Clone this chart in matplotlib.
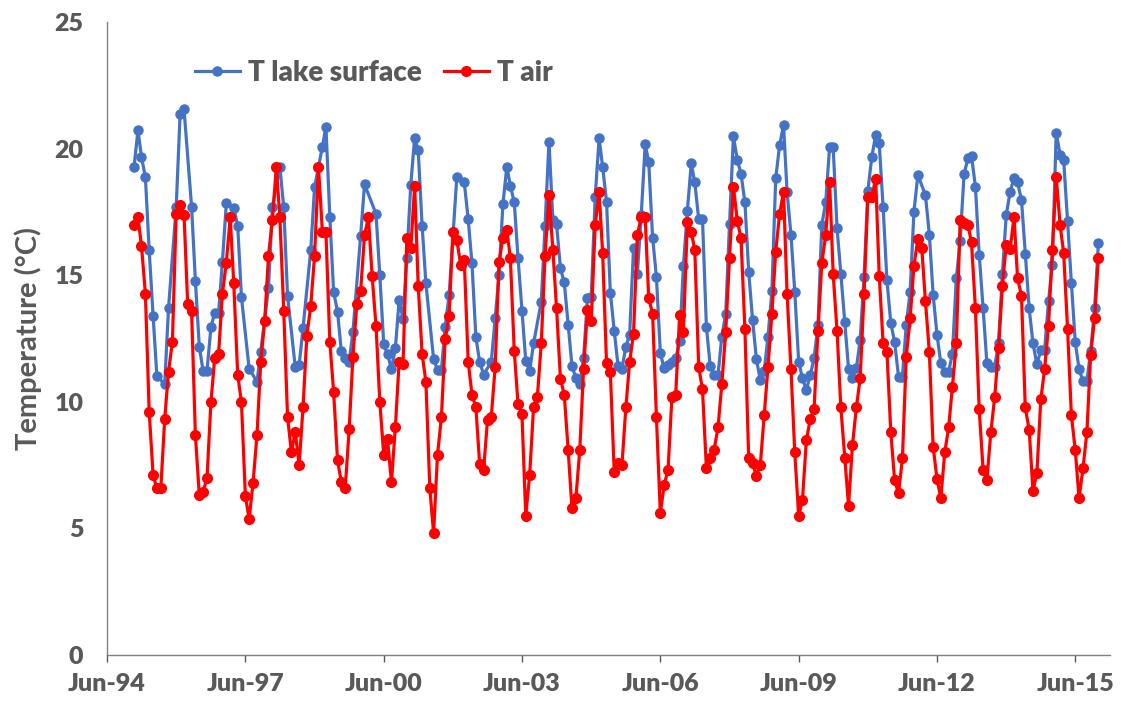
import numpy as np
import pandas as pd
import matplotlib
matplotlib.use('Agg')
import matplotlib.pyplot as plt
import matplotlib.dates as mdates

# monthly series, Jan-1995 .. Dec-2015 (NaN = no lake observation that month)
nan = np.nan
months = pd.date_range('1995-01-01', '2015-12-01', freq='MS')

t_lake = [
    19.26, 20.73, 19.68, 18.87, 15.98, 13.40, 11.02, nan, 10.70, 13.69, nan, 17.70,
    21.37, 21.56, nan, 17.70, 14.78, 12.18, 11.22, 11.22, 12.94, 13.53, 13.53, 15.53,
    17.84, nan, 17.67, 16.96, 14.13, nan, 11.30, nan, 10.80, 11.98, nan, 14.51,
    17.68, nan, 19.29, 17.68, 14.19, nan, 11.38, 11.45, 12.93, nan, 16.00, 18.47,
    nan, 20.08, 20.87, 17.31, 14.35, 13.56, 12.00, 11.72, 11.58, 12.77, nan, 16.56,
    18.60, nan, nan, 17.42, 15.00, 12.27, 11.88, 11.30, 12.11, 14.02, 13.27, 15.70,
    18.56, 20.44, 19.94, 16.96, 14.68, nan, 11.69, 11.26, 11.26, 12.97, 14.22, nan,
    18.89, nan, 18.67, 17.22, 15.47, 12.55, 11.58, 11.08, nan, 11.58, 13.32, 15.00,
    17.81, 19.29, 18.54, 17.88, 15.67, 13.59, 11.62, 11.22, 12.31, nan, 13.96, 16.96,
    20.28, 17.18, 17.01, 15.27, 14.72, 13.03, 11.43, 10.93, 10.69, 11.72, 14.12, 14.15,
    18.10, 20.41, 19.29, 17.90, 14.32, 12.80, 11.43, 11.30, 12.18, 12.66, 16.09, 15.07,
    17.38, 20.17, 19.48, 16.48, 14.94, 11.94, 11.32, 11.45, 11.58, 11.72, 12.40, 15.38,
    17.54, 19.42, 18.67, 17.22, 17.22, 12.97, 11.43, 11.06, 11.06, 12.57, 13.47, 17.01,
    20.50, 19.55, 19.02, 17.88, 15.14, 13.23, 11.69, 10.86, 11.22, 12.57, 14.39, 18.83,
    20.14, 20.93, 18.30, 16.59, 14.35, 11.58, 10.93, 10.47, 11.06, 11.72, 13.03, 16.98,
    17.88, 20.08, 20.08, 16.85, 15.07, 13.16, 11.30, 10.95, 11.32, 12.46, 14.94, 18.33,
    19.68, 20.54, 20.21, 17.68, 14.81, 13.10, 12.37, 10.99, 10.99, 13.03, 14.35, 17.51,
    18.96, nan, 18.17, 16.61, 14.24, 12.64, 11.52, 11.19, 11.19, 11.91, 14.90, 16.35,
    19.00, 19.62, 19.72, 18.50, 15.82, 13.69, 11.52, 11.39, 11.39, 12.31, 15.07, 17.38,
    18.30, 18.83, 18.67, 17.97, 15.86, 13.69, 12.31, 11.48, 12.04, 12.04, 13.98, 15.40,
    20.64, 19.75, 19.55, 17.14, 14.71, 12.35, 11.30, 10.82, 10.82, 12.00, 13.69, 16.26,
]

t_air = [
    16.98, 17.29, 16.17, 14.27, 9.61, 7.11, 6.58, 6.58, 9.32, 11.19, 12.37, 17.44,
    17.77, 17.40, 13.86, 13.59, 8.69, 6.32, 6.45, 6.98, 9.98, 11.72, 11.91, 14.27,
    15.50, 17.29, 14.68, 11.08, 9.98, 6.28, 5.37, 6.81, 8.69, 11.59, 13.19, 15.77,
    17.17, 19.29, 17.29, 13.59, 9.41, 8.00, 8.82, 7.50, 9.81, 12.61, 13.80, 15.77,
    19.29, 16.72, 16.72, 12.37, 10.40, 7.70, 6.82, 6.58, 8.91, 11.78, 13.88, 14.38,
    16.59, 17.29, 14.98, 13.00, 10.00, 7.90, 8.53, 6.82, 8.99, 11.58, 11.48, 16.48,
    16.06, 18.54, 14.59, 11.89, 10.80, 6.58, 4.81, 7.90, 9.41, 12.48, 13.39, 16.72,
    16.39, 15.40, 15.60, 11.58, 10.29, 9.78, 7.53, 7.31, 9.28, 9.41, 11.39, 15.51,
    16.48, 16.79, 15.69, 12.00, 9.90, 9.51, 5.50, 7.11, 9.81, 10.20, 12.31, 15.77,
    18.19, 16.00, 13.69, 10.90, 10.29, 8.10, 5.79, 6.19, 8.10, 11.30, 13.63, 13.20,
    16.98, 18.30, 15.89, 11.52, 11.19, 7.21, 7.57, 7.50, 9.78, 11.58, 12.70, 16.59,
    17.31, 17.31, 14.11, 13.47, 9.41, 5.60, 6.71, 7.31, 10.20, 10.29, 13.43, 12.77,
    17.11, 16.72, 16.00, 11.39, 10.49, 7.37, 7.77, 8.10, 8.99, 10.69, 12.77, 15.67,
    18.50, 17.15, 16.48, 12.88, 7.79, 7.57, 7.08, 7.50, 9.48, 11.39, 13.49, 15.93,
    17.42, 18.30, 14.28, 11.30, 8.00, 5.50, 6.12, 8.49, 9.32, 9.72, 12.80, 15.47,
    16.59, 18.67, 15.07, 12.80, 9.78, 7.79, 5.90, 8.29, 9.78, 10.93, 14.28, 18.10,
    18.10, 18.80, 14.98, 12.31, 11.98, 8.79, 6.91, 6.38, 7.79, 11.78, 13.30, 15.38,
    16.43, 16.09, 13.98, 11.98, 8.23, 6.95, 6.19, 8.00, 8.99, 10.60, 12.31, 17.18,
    17.05, 16.98, 16.30, 13.69, 9.70, 7.31, 6.91, 8.79, 10.20, 12.11, 14.59, 16.19,
    16.03, 17.31, 14.88, 14.19, 9.78, 8.89, 6.48, 7.18, 10.10, 11.28, 12.99, 16.00,
    18.89, 16.98, 15.89, 12.88, 9.48, 8.10, 6.19, 7.37, 8.79, 11.87, 13.30, 15.67,
]

tick_dates = pd.date_range('1994-06-01', '2015-06-01', freq='36MS')

plt.rcParams['font.family'] = ['Lato', 'DejaVu Sans']
gray = '#595959'

fig = plt.figure(figsize=(11.23, 7.11), dpi=100)
ax = fig.add_axes([0.0953, 0.0788, 0.893, 0.890])

lake = pd.Series(t_lake, index=months).dropna()
ax.plot(lake.index, lake.values, color='#4472C4', lw=2.3, marker='o',
        ms=6.5, label='T lake surface', zorder=2)
ax.plot(months, t_air, color='#FF0000', lw=2.3, marker='o',
        ms=7, label='T air', zorder=3)

ax.set_xlim(pd.Timestamp('1994-06-01'), pd.Timestamp('2016-03-01'))
ax.set_ylim(0, 25)
ax.set_yticks(np.arange(0, 26, 5))
ax.set_xticks(tick_dates)
ax.xaxis.set_major_formatter(mdates.DateFormatter('%b-%y'))

for s in ['top', 'right']:
    ax.spines[s].set_visible(False)
for s in ['left', 'bottom']:
    ax.spines[s].set_color('#808080')
    ax.spines[s].set_linewidth(1.0)
ax.tick_params(axis='both', colors=gray, labelsize=18, length=5, width=1,
               direction='out')
ax.tick_params(axis='y', length=0, pad=17)
ax.tick_params(axis='x', pad=8)
for lbl in ax.get_xticklabels() + ax.get_yticklabels():
    lbl.set_fontweight('heavy')
    lbl.set_color(gray)

ax.set_ylabel('Temperature (°C)', fontsize=21, fontweight='bold', color=gray,
              labelpad=9)

ax.legend(loc='upper left', bbox_to_anchor=(0.063, 0.98), ncol=2, frameon=False,
          prop={'size': 20, 'weight': 'heavy'}, labelcolor=gray,
          handlelength=1.6, columnspacing=0.8, handletextpad=0.3)

fig.savefig('out.png', dpi=100)
